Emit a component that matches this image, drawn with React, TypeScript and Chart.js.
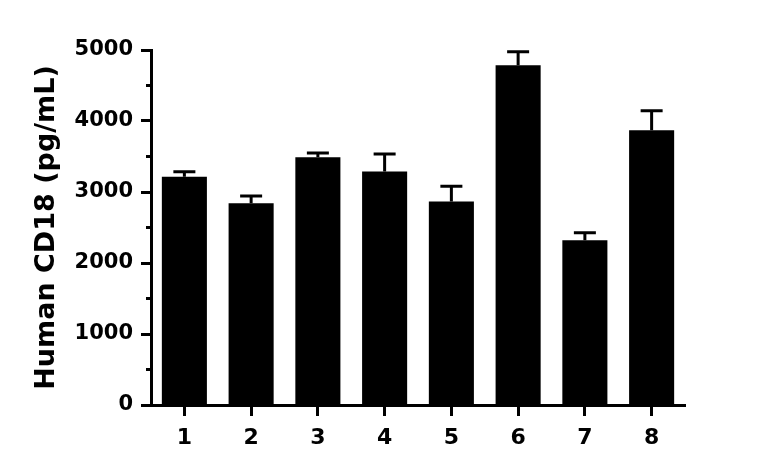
import { useEffect, useRef } from "react"
import { Chart, registerables } from "chart.js"

Chart.register(...registerables)

const samples = ["1", "2", "3", "4", "5", "6", "7", "8"]
const cd18Means = [3215, 2840, 3490, 3290, 2865, 4785, 2320, 3870]
const cd18Errors = [70, 105, 60, 245, 215, 190, 105, 275]
const minorTicks = [500, 1500, 2500, 3500, 4500]

// draws the upper SEM whiskers on top of each bar
const errorBarPlugin = {
  id: "errorBars",
  afterDatasetsDraw(chart: any) {
    const ctx = chart.ctx
    const yScale = chart.scales.y
    const meta = chart.getDatasetMeta(0)
    ctx.save()
    ctx.strokeStyle = "#000"
    ctx.lineWidth = 3
    meta.data.forEach((bar: any, i: number) => {
      const top = yScale.getPixelForValue(cd18Means[i] + cd18Errors[i])
      ctx.beginPath()
      ctx.moveTo(bar.x, bar.y)
      ctx.lineTo(bar.x, top)
      ctx.moveTo(bar.x - 11, top)
      ctx.lineTo(bar.x + 11, top)
      ctx.stroke()
    })
    ctx.restore()
  },
}

// short minor ticks on the y axis
const minorTickPlugin = {
  id: "minorTicks",
  afterDraw(chart: any) {
    const ctx = chart.ctx
    const yScale = chart.scales.y
    const x = chart.chartArea.left
    ctx.save()
    ctx.strokeStyle = "#000"
    ctx.lineWidth = 3
    minorTicks.forEach((v) => {
      const y = yScale.getPixelForValue(v)
      ctx.beginPath()
      ctx.moveTo(x - 5, y)
      ctx.lineTo(x, y)
      ctx.stroke()
    })
    ctx.restore()
  },
}

export default function App() {
  const chartRef = useRef<HTMLCanvasElement>(null)
  const chartInstance = useRef<Chart | null>(null)

  useEffect(() => {
    document.body.style.margin = "0"
    if (!chartRef.current) return
    if (chartInstance.current) chartInstance.current.destroy()

    Chart.defaults.font.family = "'DejaVu Sans', sans-serif"
    Chart.defaults.color = "#000"

    chartInstance.current = new Chart(chartRef.current, {
      type: "bar",
      data: {
        labels: samples,
        datasets: [
          {
            label: "Human CD18",
            data: cd18Means,
            backgroundColor: "#000",
            borderColor: "#000",
            borderWidth: 0,
            categoryPercentage: 1,
            barPercentage: 0.675,
          },
        ],
      },
      options: {
        responsive: true,
        maintainAspectRatio: false,
        animation: false,
        layout: {
          padding: { top: 50, right: 83, left: 0, bottom: 0 },
        },
        plugins: {
          legend: { display: false },
          tooltip: { enabled: false },
        },
        scales: {
          x: {
            grid: {
              offset: false,
              drawOnChartArea: false,
              tickLength: 11,
              tickWidth: 3,
              tickColor: "#000",
            },
            border: { color: "#000", width: 3 },
            ticks: {
              padding: 9,
              font: { size: 22, weight: "bold" },
              color: "#000",
            },
            afterFit: (scale: any) => {
              scale.height = 71
            },
          },
          y: {
            min: 0,
            max: 5000,
            grid: {
              drawOnChartArea: false,
              tickLength: 10,
              tickWidth: 3,
              tickColor: "#000",
            },
            border: { color: "#000", width: 3 },
            ticks: {
              stepSize: 1000,
              padding: 8,
              font: { size: 21, weight: "bold" },
              color: "#000",
              callback: (value: any) => String(value),
            },
            title: {
              display: true,
              text: "Human CD18 (pg/mL)",
              font: { size: 27, weight: "bold" },
              color: "#000",
              padding: { top: 31, bottom: 0 },
            },
            afterFit: (scale: any) => {
              scale.width = 151
            },
          },
        },
      },
      plugins: [errorBarPlugin, minorTickPlugin],
    })

    return () => {
      if (chartInstance.current) {
        chartInstance.current.destroy()
        chartInstance.current = null
      }
    }
  }, [])

  return (
    <div style={{ width: 768, height: 476, position: "relative" }}>
      <canvas ref={chartRef}></canvas>
    </div>
  )
}
